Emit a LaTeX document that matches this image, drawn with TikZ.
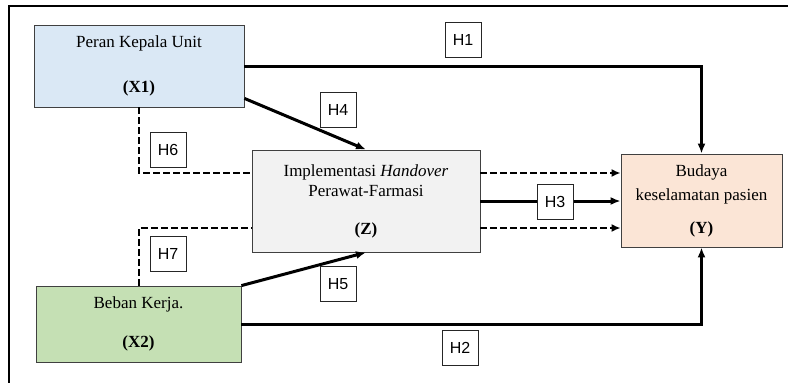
\documentclass[tikz,border=0pt]{standalone}
\usepackage{fontspec}
\setmainfont{Liberation Serif}
\newfontfamily\labelfont{Liberation Sans}
\usetikzlibrary{arrows.meta}
\definecolor{xone}{HTML}{DAE8F5}
\definecolor{xtwo}{HTML}{C5E0B4}
\definecolor{zmed}{HTML}{F2F2F2}
\definecolor{yout}{HTML}{FBE5D6}

\begin{document}
\begin{tikzpicture}[
    x=1pt, y=-1pt, >={Latex[length=10pt, width=8pt]},
    every node/.style={align=center, inner sep=0pt},
    var/.style={draw=black!75, line width=0.8pt, font=\fontsize{17}{20}\selectfont},
    hyp/.style={draw=black!85, fill=white, line width=0.8pt, minimum width=36pt, minimum height=35pt, font=\labelfont\fontsize{16}{18}\selectfont},
    direct/.style={->, line width=3pt},
    mediate/.style={line width=2pt, dash pattern=on 7pt off 3pt},
    mediate_arrow/.style={mediate, ->, >={Latex[length=9pt, width=8pt]}}
]
\useasboundingbox (0,0) rectangle (788,383);
\draw[line width=2.2pt] (9,383) |- (788,6);

\node (peran_kepala) [var, fill=xone, minimum width=210pt, minimum height=82pt] at (139,66) {Peran Kepala Unit\\[25pt]\textbf{(X1)}};
\node (handover) [var, fill=zmed, minimum width=228pt, minimum height=102pt] at (366,201) {Implementasi \textit{Handover}\\Perawat-Farmasi\\[18pt]\textbf{(Z)}};
\node (budaya) [var, fill=yout, minimum width=161pt, minimum height=93pt] at (701.5,200.5) {Budaya\\[4pt]keselamatan pasien\\[13pt]\textbf{(Y)}};
\node (beban_kerja) [var, fill=xtwo, minimum width=205pt, minimum height=76pt] at (138.5,324) {Beban Kerja.\\[19pt]\textbf{(X2)}};

\draw[direct] (peran_kepala.east) -| (budaya.north);
\draw[direct] (beban_kerja.east) -| (budaya.south);
\draw[direct] ([yshift=9pt]peran_kepala.south east) -- (handover.north);
\draw[direct] (beban_kerja.north east) -- (handover.south);
\draw[direct] (handover.east) -- (handover.east -| budaya.west);
\draw[mediate] (peran_kepala.south) |- ([yshift=28pt]handover.west);
\draw[mediate] (beban_kerja.north) |- ([yshift=-27pt]handover.west);
\draw[mediate_arrow] ([yshift=28pt]handover.east) -- ([yshift=28pt]handover.east -| budaya.west);
\draw[mediate_arrow] ([yshift=-27pt]handover.east) -- ([yshift=-27pt]handover.east -| budaya.west);

\node (h1) [hyp] at (463,40) {H1};
\node (h2) [hyp] at (460,348) {H2};
\node (h3) [hyp] at (555,202) {H3};
\node (h4) [hyp] at (338,110) {H4};
\node (h5) [hyp] at (338,284) {H5};
\node (h6) [hyp] at (168,150) {H6};
\node (h7) [hyp] at (168,254) {H7};
\end{tikzpicture}
\end{document}
